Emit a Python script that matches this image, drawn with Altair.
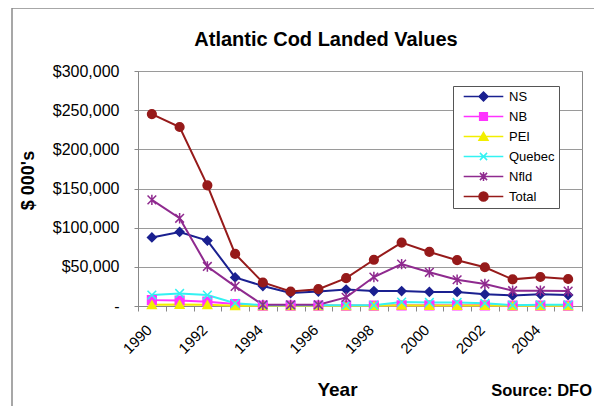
import altair as alt
import pandas as pd

FONT = "Liberation Sans"

years = list(range(1990, 2006))
series_names = ["NS", "NB", "PEI", "Quebec", "Nfld", "Total"]

ns = [87500, 94500, 83500, 36500, 25500, 16500, 18500, 21000, 19000, 19000, 18000, 18000, 15000, 13500, 15000, 14000]
nb = [7500, 7000, 5500, 2500, 500, 500, 500, 500, 500, 800, 800, 800, 800, 500, 500, 500]
pei = [1500, 2000, 1500, 300, 200, 200, 200, 200, 200, 1000, 500, 500, 500, 200, 200, 200]
quebec = [14000, 16000, 14000, 3500, 1000, 1000, 1000, 1000, 1000, 5000, 4500, 4500, 3500, 1000, 1500, 1500]
nfld = [135500, 112000, 50500, 25000, 1500, 1500, 1500, 11000, 37000, 53500, 43000, 33500, 28000, 19500, 19500, 19000]
total = [245000, 228500, 154000, 66500, 30000, 18500, 21500, 35500, 59000, 81000, 69000, 58500, 49500, 34000, 37000, 34500]

y_ticks = [0, 50000, 100000, 150000, 200000, 250000, 300000]

series_colors = ["#1a2090", "#ff33ff", "#f2ee00", "#33f2f2", "#8f2a8f", "#961a1a"]
marker_shapes = [
    "diamond",
    "square",
    "triangle-up",
    "M-1,-1L1,1M-1,1L1,-1",
    "M-1,-1L1,1M-1,1L1,-1M0,-1.2L0,1.2",
    "circle",
]
legend_line = "M-4.4,0L4.4,0"
legend_shapes = [
    legend_line + "M-1,0L0,-1L1,0L0,1Z",
    legend_line + "M-0.85,-0.85L0.85,-0.85L0.85,0.85L-0.85,0.85Z",
    legend_line + "M0,-0.9L-1,0.85L1,0.85Z",
    legend_line + "M-0.8,-0.8L0.8,0.8M-0.8,0.8L0.8,-0.8",
    legend_line + "M-0.8,-0.8L0.8,0.8M-0.8,0.8L0.8,-0.8M0,-1L0,1",
    legend_line + "M-1,0A1,1,0,1,0,1,0A1,1,0,1,0,-1,0Z",
]

values_by_series = [ns, nb, pei, quebec, nfld, total]
rows = []
for name, vals in zip(series_names, values_by_series):
    for yr, v in zip(years, vals):
        rows.append({"year": yr, "series": name, "value": v})
df = pd.DataFrame(rows)

color_scale = alt.Scale(domain=series_names, range=series_colors)
shape_scale = alt.Scale(domain=series_names, range=marker_shapes)

x_enc = alt.X(
    "year:O",
    scale=alt.Scale(type="band", paddingInner=0, paddingOuter=0),
    axis=alt.Axis(
        title="Year",
        titleFont=FONT,
        titleFontSize=19,
        titleFontWeight="bold",
        titleColor="black",
        titleX=199,
        titleY=89,
        titleBaseline="alphabetic",
        labelExpr="datum.value % 2 == 0 ? datum.label : ''",
        labelAngle=-45,
        labelAlign="right",
        labelBaseline="middle",
        labelFont=FONT,
        labelFontSize=15,
        labelColor="black",
        labelPadding=16,
        labelOffset=-3,
        labelOverlap=False,
        tickBand="extent",
        tickSize=5,
        tickColor="#888888",
        domainColor="#888888",
        grid=False,
    ),
)
y_enc = alt.Y(
    "value:Q",
    scale=alt.Scale(domain=[0, 300000], nice=False),
    axis=alt.Axis(
        values=y_ticks,
        labelExpr="datum.value == 0 ? '-\u00a0\u00a0\u00a0\u00a0' : '$' + format(datum.value, ',')",
        labelFont=FONT,
        labelFontSize=16,
        labelColor="black",
        labelPadding=15,
        tickSize=4,
        tickColor="#888888",
        domainColor="#888888",
        grid=True,
        gridColor="#9a9a9a",
        title="$ 000's",
        titleFont=FONT,
        titleFontSize=18,
        titleFontWeight="bold",
        titleColor="black",
        titleX=-110,
        titleY=109,
        titleBaseline="middle",
    ),
)

lines = alt.Chart(df).mark_line(strokeWidth=2).encode(
    x=x_enc,
    y=y_enc,
    color=alt.Color("series:N", scale=color_scale, legend=None),
)
points = alt.Chart(df).mark_point(filled=False, size=75, strokeWidth=1.5, opacity=1, fillOpacity=1).encode(
    x=x_enc,
    y=y_enc,
    color=alt.Color("series:N", scale=color_scale, legend=None),
    fill=alt.Fill("series:N", scale=color_scale, legend=None),
    shape=alt.Shape("series:N", scale=shape_scale, legend=None),
)
data_layer = alt.layer(lines, points)

leg = alt.Legend(
    title=None,
    orient="none",
    legendX=315,
    legendY=15,
    symbolSize=81,
    symbolStrokeWidth=1.5,
    symbolOffset=20,
    labelOffset=19,
    labelFont=FONT,
    labelFontSize=13,
    labelColor="black",
    fillColor="white",
    strokeColor="#555555",
    padding=4,
    rowPadding=5,
)
legend_layer = alt.Chart(df).transform_filter("false").mark_point(
    filled=False, size=81, strokeWidth=1.5, opacity=1, fillOpacity=1
).encode(
    color=alt.Color("series:N", scale=alt.Scale(domain=series_names, range=series_colors), legend=leg),
    fill=alt.Fill("series:N", scale=alt.Scale(domain=series_names, range=series_colors), legend=leg),
    shape=alt.Shape("series:N", scale=alt.Scale(domain=series_names, range=legend_shapes), legend=leg),
)

one = pd.DataFrame({"k": [0]})
frame = alt.Chart(one).mark_rect(fill="transparent", stroke="#8a8a8a", strokeWidth=1.5).encode(
    x=alt.value(-126), x2=alt.value(600), y=alt.value(-63), y2=alt.value(500)
)
title_text = alt.Chart(one).mark_text(
    text="Atlantic Cod Landed Values", font=FONT, fontSize=20, fontWeight="bold",
    color="black", align="center", baseline="alphabetic"
).encode(x=alt.value(188), y=alt.value(-25))
source_text = alt.Chart(one).mark_text(
    text="Source: DFO", font=FONT, fontSize=16.5, fontWeight="bold",
    color="black", align="right", baseline="alphabetic"
).encode(x=alt.value(454), y=alt.value(325))

chart = alt.layer(frame, data_layer, legend_layer, title_text, source_text).resolve_scale(
    color="independent", fill="independent", shape="independent"
).properties(
    width=444,
    height=235,
    autosize="none",
    padding={"left": 130, "top": 63, "right": 12, "bottom": 100},
    background="white",
).configure_view(stroke="#888888", strokeWidth=1)

chart.save("out.html", embed_options={"renderer": "svg", "actions": False})
